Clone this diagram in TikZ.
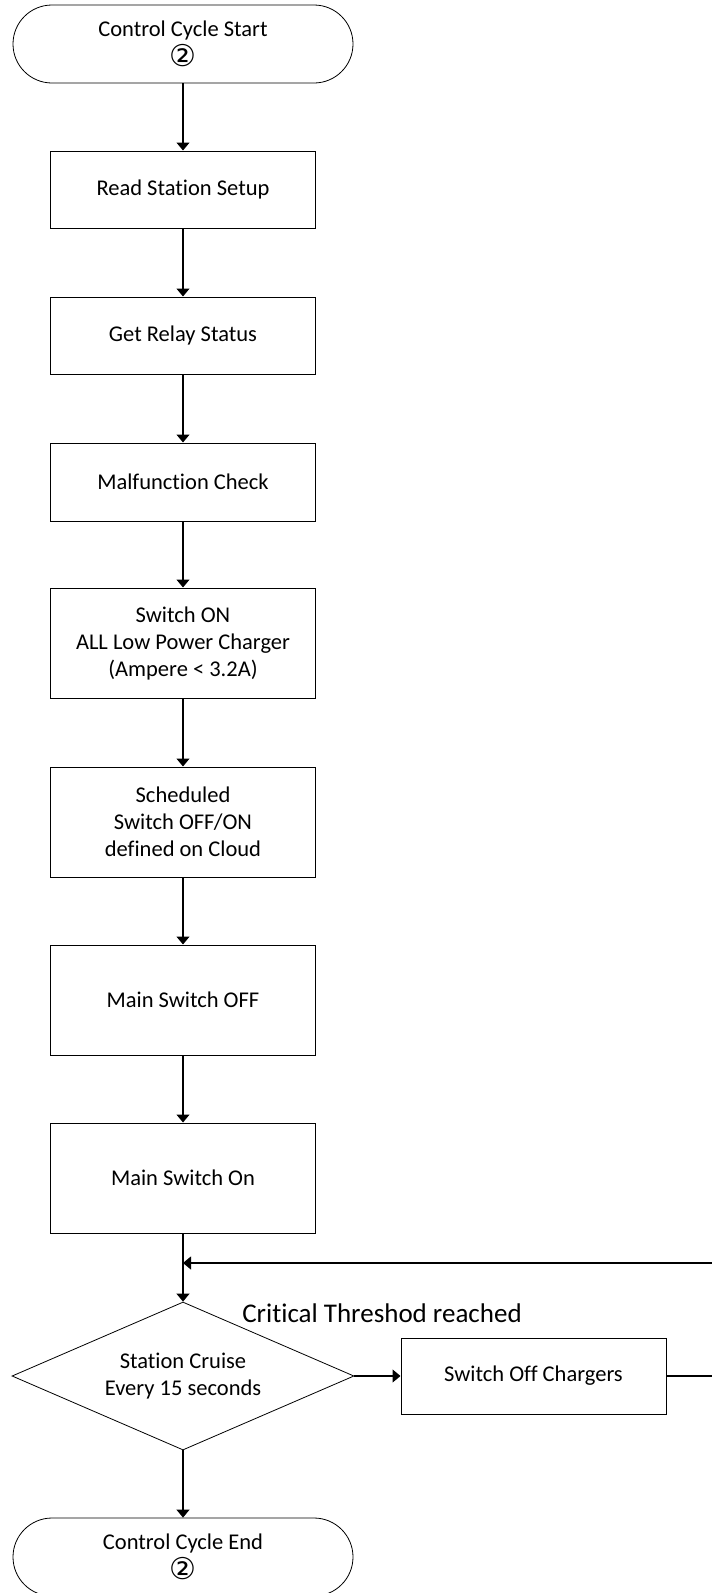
\documentclass[tikz,border=0pt]{standalone}
\usepackage{fontspec}
\setmainfont{Carlito}[Ligatures=CommonOff]
\newfontfamily\circfont{DejaVu Sans}
\usetikzlibrary{shapes.geometric,arrows.meta}

\newcommand{\cyclemark}{{\circfont\fontsize{30}{27}\selectfont ②}}

\begin{document}
\begin{tikzpicture}[x=1pt, y=-1pt,
    boxtext/.style={font=\fontsize{22.5}{27}\selectfont},
    box/.style={draw, line width=1pt, minimum width=265pt, align=center, boxtext},
    term/.style={draw, line width=0.8pt, rounded corners=39pt, minimum width=340pt, minimum height=78pt, align=center, boxtext},
    decide/.style={draw, diamond, aspect=2.31, line width=0.8pt, minimum width=342pt, minimum height=148pt, inner sep=0pt, align=center, boxtext},
    flow/.style={line width=1.2pt, -{Triangle[width=13pt,length=8pt]}},
    wire/.style={line width=1.2pt}]
    \useasboundingbox (0,0) rectangle (712,1593);

    % Start and the main chain of steps
    \node[term] (start) at (183,44) {Control Cycle Start\\[3pt]\cyclemark};
    \node[box, minimum height=77pt] (read) at (183,189.5) {Read Station Setup};
    \node[box, minimum height=77pt] (relay) at (183,335.5) {Get Relay Status};
    \node[box, minimum height=78pt] (malf) at (183,482) {Malfunction Check};
    \node[box, minimum height=110pt] (swon) at (183,643) {Switch ON\\ALL Low Power Charger\\(Ampere < 3.2A)};
    \node[box, minimum height=110pt] (sched) at (183,822) {Scheduled\\Switch OFF/ON\\defined on Cloud};
    \node[box, minimum height=110pt] (msoff) at (183,1000) {Main Switch OFF};
    \node[box, minimum height=110pt] (mson) at (183,1178) {Main Switch On};

    % Decision and the side branch
    \node[decide] (cruise) at (183,1376) {Station Cruise\\Every 15 seconds};
    \node[box, minimum height=76pt] (off) at (533.5,1376) {Switch Off Chargers};
    \node[font=\fontsize{27}{32}\selectfont] (crit) at (382,1313) {Critical Threshod reached};
    \node[term] (stop) at (183,1557) {Control Cycle End\\[3pt]\cyclemark};

    % Loose ends at the right border
    \coordinate (offout) at (712,1376);
    \coordinate (backin) at (712,1263);

    % Connectors
    \draw[flow] (start.south) -- (read.north);
    \draw[flow] (read.south) -- (relay.north);
    \draw[flow] (relay.south) -- (malf.north);
    \draw[flow] (malf.south) -- (swon.north);
    \draw[flow] (swon.south) -- (sched.north);
    \draw[flow] (sched.south) -- (msoff.north);
    \draw[flow] (msoff.south) -- (mson.north);
    \draw[flow] (mson.south) -- (cruise.north);
    \draw[flow] (backin) -- (backin -| mson.south);
    \draw[flow] (cruise.east) -- (off.west);
    \draw[wire] (off.east) -- (offout);
    \draw[flow] (cruise.south) -- (stop.north);
\end{tikzpicture}
\end{document}
